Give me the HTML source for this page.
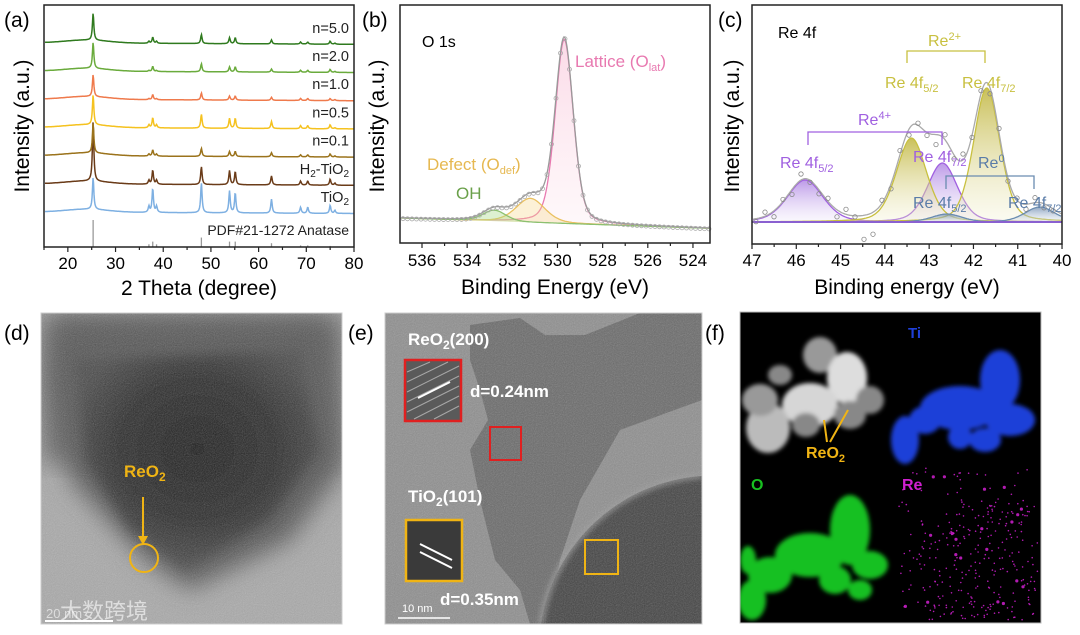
<!DOCTYPE html>
<html><head><meta charset="utf-8">
<style>
html,body{margin:0;padding:0;background:#fff;width:1080px;height:635px;overflow:hidden;}
svg{display:block;font-family:"Liberation Sans",Arial,sans-serif;}
</style></head>
<body>
<svg id="fig" width="1080" height="635" viewBox="0 0 1080 635" xmlns="http://www.w3.org/2000/svg">
<defs>
<filter id="blur6"><feGaussianBlur stdDeviation="6"/></filter>
<filter id="blur3"><feGaussianBlur stdDeviation="3"/></filter>
<filter id="blur2"><feGaussianBlur stdDeviation="2"/></filter>
<filter id="blur12"><feGaussianBlur stdDeviation="12"/></filter>
<filter id="noise"><feTurbulence type="fractalNoise" baseFrequency="0.9" numOctaves="2" result="n"/><feColorMatrix type="saturate" values="0"/><feComponentTransfer><feFuncA type="table" tableValues="0 0.35"/></feComponentTransfer></filter>
<clipPath id="clipD"><rect x="41" y="313" width="301" height="311"/></clipPath>
<clipPath id="clipE"><rect x="385" y="313" width="317" height="311"/></clipPath>
<clipPath id="clipF"><rect x="740" y="312" width="301" height="311"/></clipPath>
<linearGradient id="gradPink" x1="0" y1="0" x2="0" y2="1"><stop offset="0" stop-color="#f7b6d0" stop-opacity="0.5"/><stop offset="1" stop-color="#fde8ef" stop-opacity="0.3"/></linearGradient>
<linearGradient id="gradOlive" x1="0" y1="0" x2="0" y2="1"><stop offset="0" stop-color="#bcb030" stop-opacity="0.8"/><stop offset="1" stop-color="#f2f0d0" stop-opacity="0.3"/></linearGradient>
<linearGradient id="gradPurple" x1="0" y1="0" x2="0" y2="1"><stop offset="0" stop-color="#a678e0" stop-opacity="0.75"/><stop offset="1" stop-color="#eee6fa" stop-opacity="0.3"/></linearGradient>
<linearGradient id="gradBlue" x1="0" y1="0" x2="0" y2="1"><stop offset="0" stop-color="#6080a8" stop-opacity="0.7"/><stop offset="1" stop-color="#dde6f0" stop-opacity="0.3"/></linearGradient>
<radialGradient id="gradD" cx="0.5" cy="0.45" r="0.55"><stop offset="0" stop-color="#1e1e1e"/><stop offset="0.6" stop-color="#2c2c2c"/><stop offset="1" stop-color="#4a4a4a"/></radialGradient>
</defs>
<g id="panelA"></g>
<g id="panelB"></g>
<g id="panelC"></g>

<!-- (d) TEM -->
<g>
<text x="4" y="340" font-size="21">(d)</text>
<g clip-path="url(#clipD)">
<rect x="41" y="313" width="301" height="311" fill="#a9a9a9"/>
<rect x="41" y="313" width="301" height="150" fill="#6a6a6a" filter="url(#blur12)"/>
<path d="M55,320 L330,320 L342,470 L290,540 L190,590 L145,560 L70,480 L50,380 Z" fill="#555" filter="url(#blur12)"/>
<path d="M75,360 L300,350 L320,450 L270,520 L185,570 L130,530 L85,460 Z" fill="url(#gradD)" filter="url(#blur6)"/>
<rect x="41" y="313" width="301" height="311" filter="url(#noise)"/>
</g>
<rect x="41" y="313" width="301" height="311" fill="none" stroke="#ccc" stroke-width="1"/>
<text x="124" y="477" font-size="17" font-weight="bold" fill="#f0b414">ReO<tspan font-size="12" dy="4">2</tspan></text>
<line x1="143" y1="497" x2="143" y2="538" stroke="#f0b414" stroke-width="2"/>
<path d="M138,536 L148,536 L143,545 Z" fill="#f0b414"/>
<circle cx="144" cy="558" r="14" fill="none" stroke="#f0b414" stroke-width="2"/>
<line x1="45" y1="621" x2="113" y2="621" stroke="#fff" stroke-width="2"/>
<text x="46" y="618" font-size="13" fill="#ddd">20 nm</text>
<text x="60" y="619" font-size="22" fill="#ffffff" fill-opacity="0.6" font-family="'Liberation Sans','Noto Sans CJK SC',sans-serif">大数跨境</text>
</g>

<!-- (e) HRTEM -->
<g>
<text x="348" y="340" font-size="21">(e)</text>
<g clip-path="url(#clipE)">
<rect x="385" y="313" width="317" height="311" fill="#8e8e8e"/>
<path d="M470,325 L520,318 L545,335 L585,335 L640,313 L702,313 L702,400 L620,430 L580,500 L560,560 L548,624 L530,624 L520,590 L495,560 L480,500 L470,450 L488,420 L480,390 L470,360 Z" fill="#6a6a6a"/>
<path d="M541,624 A175,175 0 0 1 702,476 L702,624 Z" fill="#424242"/>
<path d="M541,624 A175,175 0 0 1 702,476" fill="none" stroke="#9a9a9a" stroke-width="4" filter="url(#blur3)"/>
<rect x="385" y="313" width="317" height="311" filter="url(#noise)"/>
</g>
<rect x="385" y="313" width="317" height="311" fill="none" stroke="#ccc"/>
<text x="408" y="345" font-size="17" font-weight="bold" fill="#fff">ReO<tspan font-size="12" dy="4">2</tspan><tspan dy="-4">(200)</tspan></text>
<rect x="405" y="360" width="56" height="61" fill="#5a5a5a" stroke="#e02020" stroke-width="2.5"/>
<g stroke="#bbb" stroke-width="1" opacity="0.8">
<line x1="407" y1="372" x2="430" y2="362"/><line x1="407" y1="382" x2="448" y2="362"/><line x1="407" y1="392" x2="459" y2="366"/><line x1="407" y1="402" x2="459" y2="376"/><line x1="407" y1="412" x2="459" y2="386"/><line x1="414" y1="419" x2="459" y2="396"/><line x1="434" y1="419" x2="459" y2="406"/></g>
<line x1="418" y1="398" x2="450" y2="382" stroke="#fff" stroke-width="2"/>
<text x="470" y="397" font-size="17" font-weight="bold" fill="#fff">d=0.24nm</text>
<rect x="490" y="427" width="31" height="33" fill="none" stroke="#e02020" stroke-width="2"/>
<text x="408" y="502" font-size="17" font-weight="bold" fill="#fff">TiO<tspan font-size="12" dy="4">2</tspan><tspan dy="-4">(101)</tspan></text>
<rect x="406" y="520" width="56" height="61" fill="#3a3a3a" stroke="#f0b414" stroke-width="2.5"/>
<line x1="420" y1="544" x2="452" y2="560" stroke="#fff" stroke-width="2"/><line x1="420" y1="552" x2="452" y2="568" stroke="#fff" stroke-width="2"/>
<text x="440" y="605" font-size="17" font-weight="bold" fill="#fff">d=0.35nm</text>
<text x="402" y="612" font-size="11" fill="#fff">10 nm</text>
<line x1="398" y1="618" x2="450" y2="618" stroke="#fff" stroke-width="1.5"/>
<rect x="585" y="540" width="33" height="34" fill="none" stroke="#f0b414" stroke-width="2"/>
</g>

<!-- (f) EDS mapping -->
<g>
<text x="705" y="340" font-size="21">(f)</text>
<g clip-path="url(#clipF)">
<rect x="740" y="312" width="301" height="311" fill="#000"/>
<g fill="#bbb" filter="url(#blur2)">
<ellipse cx="820" cy="355" rx="17" ry="18" fill="#999"/><ellipse cx="847" cy="378" rx="20" ry="26" fill="#ddd"/><ellipse cx="810" cy="405" rx="28" ry="22" fill="#d6d6d6"/>
<ellipse cx="768" cy="428" rx="22" ry="25"/><ellipse cx="760" cy="400" rx="18" ry="16" fill="#999"/><ellipse cx="806" cy="425" rx="14" ry="12" fill="#888"/><ellipse cx="850" cy="415" rx="16" ry="14" fill="#888"/><ellipse cx="870" cy="400" rx="14" ry="14" fill="#888"/><ellipse cx="780" cy="375" rx="12" ry="10" fill="#888"/></g>
<g fill="#1f3fd8" filter="url(#blur2)">
<ellipse cx="1000" cy="380" rx="20" ry="30"/><ellipse cx="960" cy="408" rx="40" ry="22"/><ellipse cx="925" cy="420" rx="16" ry="14"/><ellipse cx="905" cy="440" rx="14" ry="24"/><ellipse cx="1010" cy="420" rx="25" ry="16"/><ellipse cx="985" cy="440" rx="16" ry="12"/><ellipse cx="960" cy="437" rx="12" ry="12"/></g>
<g fill="#18c020" filter="url(#blur2)">
<ellipse cx="850" cy="530" rx="20" ry="35"/><ellipse cx="810" cy="555" rx="35" ry="22"/><ellipse cx="770" cy="575" rx="22" ry="18"/><ellipse cx="752" cy="600" rx="14" ry="20"/><ellipse cx="870" cy="565" rx="18" ry="14"/><ellipse cx="835" cy="580" rx="16" ry="14"/><ellipse cx="860" cy="590" rx="12" ry="10"/><ellipse cx="748" cy="560" rx="8" ry="14"/></g>
<g id="reDots" fill="#d020d0"></g>
</g>
<rect x="740" y="312" width="301" height="311" fill="none" stroke="#bbb"/>
<line x1="827" y1="442" x2="824" y2="420" stroke="#f0b414" stroke-width="2"/>
<line x1="830" y1="442" x2="848" y2="410" stroke="#f0b414" stroke-width="2"/>
<text x="806" y="458" font-size="16" font-weight="bold" fill="#f0b414">ReO<tspan font-size="11" dy="4">2</tspan></text>
<text x="908" y="338" font-size="15" font-weight="bold" fill="#1f3fd8">Ti</text>
<text x="751" y="490" font-size="16" font-weight="bold" fill="#18c020">O</text>
<text x="902" y="490" font-size="16" font-weight="bold" fill="#d020d0">Re</text>
</g>
</svg>
<script>
// ====== DATA ======
// (a) XRD
var xrdSamples = ["n=5.0","n=2.0","n=1.0","n=0.5","n=0.1","H2-TiO2","TiO2"];
var xrdPeakPos = [25.3, 37.0, 37.8, 38.6, 48.0, 53.9, 55.1, 62.7, 68.8, 70.3, 75.0, 76.0];
var xrdH_n50  = [27, 2, 6, 2, 9, 6, 6, 4, 2, 2, 3, 1];
var xrdH_n20  = [26, 1, 5, 1, 8, 5, 5, 3, 2, 2, 3, 1];
var xrdH_n10  = [22, 1, 5, 1, 7, 4, 4, 3, 2, 2, 2, 1];
var xrdH_n05  = [30, 3, 10, 3, 14, 10, 10, 7, 3, 3, 4, 1];
var xrdH_n01  = [30, 2, 6, 2, 8, 5, 5, 4, 2, 2, 3, 1];
var xrdH_H2   = [60, 4, 14, 4, 18, 14, 13, 9, 4, 4, 6, 2];
var xrdH_TiO2 = [32, 6, 24, 6, 30, 22, 20, 14, 6, 6, 8, 3];
var xrdOffsets = [6, 5, 4, 3, 2, 1, 0];
var xrdRefPos = [25.3, 37.0, 37.8, 38.6, 48.0, 53.9, 55.1, 62.7, 68.8, 70.3, 75.0];
var xrdRefH   = [1.0, 0.1, 0.2, 0.1, 0.35, 0.2, 0.2, 0.14, 0.06, 0.06, 0.04];
var xrdTicks = [20,30,40,50,60,70,80];
// (b) O 1s components: center, height, fwhm
var o1sNames   = ["Lattice","Defect","OH"];
var o1sCenters = [529.7, 531.2, 532.8];
var o1sHeights = [184, 24, 11];
var o1sWidths  = [0.95, 1.5, 1.2];
var o1sTicks = [536,534,532,530,528,526,524];
// (c) Re 4f components
var reNames   = ["Re4+ 4f5/2","Re4+ 4f7/2","Re2+ 4f5/2","Re2+ 4f7/2","Re0 4f5/2","Re0 4f7/2"];
var reCenters = [45.8, 42.7, 43.4, 41.7, 42.6, 40.5];
var reHeights = [42, 59, 84, 134, 8, 15];
var reWidths  = [0.95, 0.8, 0.8, 0.7, 0.8, 0.8];
var reTicks = [47,46,45,44,43,42,41,40];
var reScatter = [3, -4, 6, -2, 5, -6, 2, 4, -3, 7, -5, 1, 24, 22, -3, 5, -4, 6, -2, 3, 10, -5, 4, -6, 2, -3, 6, -4, 3, -2, 5, -5, 4, 2];

var NS = "http://www.w3.org/2000/svg";
function mk(parent, tag, attrs){ var e=document.createElementNS(NS,tag); for(var k in attrs) e.setAttribute(k,attrs[k]); parent.appendChild(e); return e; }
function lor(x,c,h,w){ var g=w/2; return h*g*g/((x-c)*(x-c)+g*g); }
function gl(x,c,h,w){ var s=w/2.355; return h*(0.7*Math.exp(-(x-c)*(x-c)/(2*s*s))+0.3*lor(x,c,1,w)); }

// ====== PANEL A ======
(function(){
  var g=document.getElementById('panelA');
  var L=44,R=354,T=5,B=247, x0=15,x1=80;
  function X(v){return L+(v-x0)/(x1-x0)*(R-L);}
  var baseY = function(off){ return 212 - off*28.2; };
  var colors=["#2f7a1e","#6aab3c","#ef7a4c","#f5c21f","#9b731c","#6a3b18","#7eb0e2"];
  var heights=[xrdH_n50,xrdH_n20,xrdH_n10,xrdH_n05,xrdH_n01,xrdH_H2,xrdH_TiO2];
  var lab=mk(g,'text',{x:4,y:27,'font-size':21});
  lab.textContent='(a)';
  
  
  for(var s=xrdSamples.length-1;s>=0;s--){
    var by=baseY(xrdOffsets[s]); var d='';
    for(var px=L+1;px<R;px+=0.5){
      var v=(px-L)/(R-L)*(x1-x0)+x0;
      var y=by - 3*Math.exp(-(v-24)*(v-24)/40) + 1.5*(v-15)/65;
      for(var i=0;i<xrdPeakPos.length;i++) y-=lor(v,xrdPeakPos[i],heights[s][i],0.35);
      d+=(d?'L':'M')+px.toFixed(1)+','+y.toFixed(1);
    }
    var p=mk(g,'path',{d:d,fill:'none',stroke:colors[s],'stroke-width':1.5});
    
    
    var t=mk(g,'text',{x:349,y:by-10,'font-size':14.5,'text-anchor':'end',fill:'#222'});
    
    
    if(xrdSamples[s]==='H2-TiO2'){ t.innerHTML='H<tspan font-size="10" dy="3">2</tspan><tspan dy="-3">-TiO</tspan><tspan font-size="10" dy="3">2</tspan>'; }
    else if(xrdSamples[s]==='TiO2'){ t.innerHTML='TiO<tspan font-size="10" dy="3">2</tspan>'; }
    else t.textContent=xrdSamples[s];
  }
  for(var i=0;i<xrdRefPos.length;i++){
    var r=mk(g,'line',{x1:X(xrdRefPos[i]),x2:X(xrdRefPos[i]),y1:B,y2:B-27*xrdRefH[i],stroke:'#999','stroke-width':1.3});
    
    
  }
  var rt=mk(g,'text',{x:349,y:235,'font-size':14,'text-anchor':'end',fill:'#222'});
  rt.textContent='PDF#21-1272 Anatase';
  
  
  var fr=mk(g,'rect',{x:L,y:T,width:R-L,height:B-T,fill:'none',stroke:'#222','stroke-width':1.5});
  
  
  for(var v=15;v<=80;v+=5){ mk(g,'line',{x1:X(v),x2:X(v),y1:B,y2:B+(v%10==0?5:3),stroke:'#222','stroke-width':1.2}); }
  xrdTicks.forEach(function(v){
    var t=mk(g,'text',{x:X(v),y:269,'font-size':17,'text-anchor':'middle'}); t.textContent=v;
    
    
  });
  var xt=mk(g,'text',{x:199,y:295,'font-size':21,'text-anchor':'middle'}); xt.textContent='2 Theta (degree)';
  
  
  var yt=mk(g,'text',{x:0,y:0,'font-size':21,'text-anchor':'middle',transform:'translate(29,126) rotate(-90)'}); yt.textContent='Intensity (a.u.)';
  
  
})();

// ====== PANEL B ======
(function(){
  var g=document.getElementById('panelB');
  var L=400,R=710,T=5,B=243;
  function X(v){return 422+(536-v)*22.58;}
  function V(px){return 536-(px-422)/22.58;}
  function base(v){return 218+(537-v)*0.75;}
  var lab=mk(g,'text',{x:362,y:27,'font-size':21}); lab.textContent='(b)';
  
  
  var cols=['#e879b0','#eac060','#8cc070'], fills=['url(#gradPink)','rgba(245,215,140,0.35)','rgba(170,220,140,0.4)'];
  for(var c=0;c<o1sCenters.length;c++){
    var d='';
    for(var px=L+1;px<=R-1;px+=1){ var v=V(px); var y=base(v)-gl(v,o1sCenters[c],o1sHeights[c],o1sWidths[c]); d+=(d?'L':'M')+px+','+y.toFixed(1); }
    var area=mk(g,'path',{d:d+'L'+(R-1)+','+base(V(R-1))+'L'+(L+1)+','+base(V(L+1))+'Z',fill:fills[c],stroke:'none'});
    
    
    var p=mk(g,'path',{d:d,fill:'none',stroke:cols[c],'stroke-width':1.3});
    
    
  }
  var d='';
  for(var px=L+1;px<=R-1;px+=1){ var v=V(px); var y=base(v); for(var c=0;c<o1sCenters.length;c++) y-=gl(v,o1sCenters[c],o1sHeights[c],o1sWidths[c]); d+=(d?'L':'M')+px+','+y.toFixed(1); }
  var env=mk(g,'path',{d:d,fill:'none',stroke:'#999','stroke-width':1.3});
  
  
  for(var px=L+3;px<R;px+=4.5){ var v=V(px); var y=base(v); for(var c=0;c<o1sCenters.length;c++) y-=gl(v,o1sCenters[c],o1sHeights[c],o1sWidths[c]);
    var pt=mk(g,'circle',{cx:px,cy:y+1,r:2,fill:'none',stroke:'#aaa','stroke-width':0.8});
    
     }
  var fr=mk(g,'rect',{x:L,y:T,width:R-L,height:B-T,fill:'none',stroke:'#222','stroke-width':1.5});
  
  
  for(var v=537;v>=523;v--){ var x=X(v); if(x>L&&x<R) mk(g,'line',{x1:x,x2:x,y1:B,y2:B+(v%2==0?5:3),stroke:'#222','stroke-width':1.2}); }
  o1sTicks.forEach(function(v){ var t=mk(g,'text',{x:X(v),y:266,'font-size':17,'text-anchor':'middle'}); t.textContent=v;
    
     });
  var xt=mk(g,'text',{x:555,y:294,'font-size':21,'text-anchor':'middle'}); xt.textContent='Binding Energy (eV)';
  
  
  var yt=mk(g,'text',{x:0,y:0,'font-size':21,'text-anchor':'middle',transform:'translate(384,126) rotate(-90)'}); yt.textContent='Intensity (a.u.)';
  
  
  var a=mk(g,'text',{x:422,y:47,'font-size':16}); a.textContent='O 1s';
  
  
  var l1=mk(g,'text',{x:575,y:67,'font-size':17,fill:'#e879b0'}); l1.innerHTML='Lattice (O<tspan font-size="11" dy="4">lat</tspan><tspan dy="-4">)</tspan>';
  
  
  var l2=mk(g,'text',{x:427,y:170,'font-size':17,fill:'#e6b850'}); l2.innerHTML='Defect (O<tspan font-size="11" dy="4">def</tspan><tspan dy="-4">)</tspan>';
  
  
  var l3=mk(g,'text',{x:456,y:199,'font-size':17,fill:'#6aa04a'}); l3.textContent='OH';
  
  
})();

// ====== PANEL C ======
(function(){
  var g=document.getElementById('panelC');
  var L=752,R=1062,T=5,B=244;
  function X(v){return L+(47-v)*44.29;}
  function V(px){return 47-(px-L)/44.29;}
  var by=222;
  var lab=mk(g,'text',{x:718,y:27,'font-size':21}); lab.textContent='(c)';
  
  
  var cols=['#a060e0','#a060e0','#c8c040','#c8c040','#6a8cb0','#6a8cb0'];
  var fills=['url(#gradPurple)','url(#gradPurple)','url(#gradOlive)','url(#gradOlive)','url(#gradBlue)','url(#gradBlue)'];
  for(var c=0;c<reCenters.length;c++){
    var d='';
    for(var px=L+1;px<=R-1;px+=1){ var v=V(px); var y=by-gl(v,reCenters[c],reHeights[c],reWidths[c]); d+=(d?'L':'M')+px+','+y.toFixed(1); }
    var ar=mk(g,'path',{d:d+'L'+(R-1)+','+by+'L'+(L+1)+','+by+'Z',fill:fills[c],stroke:'none'});
    
    
    var p=mk(g,'path',{d:d,fill:'none',stroke:cols[c],'stroke-width':1.3});
    
    
  }
  mk(g,'line',{x1:L,x2:R,y1:by,y2:by,stroke:'#8a60d0','stroke-width':2});
  var d='';
  function envAt(v){ var y=by; for(var c=0;c<reCenters.length;c++) y-=gl(v,reCenters[c],reHeights[c],reWidths[c]); return y; }
  for(var px=L+1;px<=R-1;px+=1){ d+=(d?'L':'M')+px+','+envAt(V(px)).toFixed(1); }
  var env=mk(g,'path',{d:d,fill:'none',stroke:'#aaa','stroke-width':1.3});
  
  
  for(var i=0;i<reScatter.length;i++){ var px=L+4+i*9; var y=envAt(V(px))+reScatter[i];
    var pt=mk(g,'circle',{cx:px,cy:y,r:2.2,fill:'none',stroke:'#888','stroke-width':0.8});
    
     }
  var fr=mk(g,'rect',{x:L,y:T,width:R-L,height:B-T,fill:'none',stroke:'#222','stroke-width':1.5});
  
  
  for(var v=47;v>=40;v-=0.5){ mk(g,'line',{x1:X(v),x2:X(v),y1:B,y2:B+(v%1==0?5:3),stroke:'#222','stroke-width':1.2}); }
  reTicks.forEach(function(v){ var t=mk(g,'text',{x:X(v),y:266,'font-size':17,'text-anchor':'middle'}); t.textContent=v;
    
     });
  var xt=mk(g,'text',{x:907,y:294,'font-size':21,'text-anchor':'middle'}); xt.textContent='Binding energy (eV)';
  
  
  var yt=mk(g,'text',{x:0,y:0,'font-size':21,'text-anchor':'middle',transform:'translate(739,126) rotate(-90)'}); yt.textContent='Intensity (a.u.)';
  
  
  var ti=mk(g,'text',{x:778,y:38,'font-size':16}); ti.textContent='Re 4f';
  
  
  function bracket(x1,x2,y,h,col,name){ var p=mk(g,'path',{d:'M'+x1+','+(y+h)+'V'+y+'H'+x2+'V'+(y+h),fill:'none',stroke:col,'stroke-width':1.3});
    
     }
  bracket(907,985,51,12,'#c8c040','re2-bracket');
  bracket(808,942,132,13,'#a060e0','re4-bracket');
  bracket(946,1034,176,13,'#6a8cb0','re0-bracket');
  function txt(x,y,html,col,name){ var t=mk(g,'text',{x:x,y:y,'font-size':16,fill:col}); t.innerHTML=html;
    
     }
  txt(928,46,'Re<tspan font-size="11" dy="-6">2+</tspan>','#c8c040','re2-label');
  txt(885,88,'Re 4f<tspan font-size="11" dy="4">5/2</tspan>','#c8c040','re2-4f52-label');
  txt(962,88,'Re 4f<tspan font-size="11" dy="4">7/2</tspan>','#c8c040','re2-4f72-label');
  txt(858,125,'Re<tspan font-size="11" dy="-6">4+</tspan>','#a060e0','re4-label');
  txt(780,168,'Re 4f<tspan font-size="11" dy="4">5/2</tspan>','#a060e0','re4-4f52-label');
  txt(913,162,'Re 4f<tspan font-size="11" dy="4">7/2</tspan>','#a060e0','re4-4f72-label');
  txt(978,168,'Re<tspan font-size="11" dy="-6">0</tspan>','#5a7ca8','re0-label');
  txt(913,208,'Re 4f<tspan font-size="11" dy="4">5/2</tspan>','#5a7ca8','re0-4f52-label');
  txt(1008,208,'Re 4f<tspan font-size="11" dy="4">7/2</tspan>','#5a7ca8','re0-4f72-label');
})();

// Re map dots (decorative texture, pseudo-random LCG)
(function(){
  var g=document.getElementById('reDots');
  var seed=12345;
  function rnd(){ seed=(seed*1103515245+12345)%2147483648; return seed/2147483648; }
  for(var i=0;i<420;i++){
    var x=893+rnd()*145, y=468+rnd()*152;
    var dd=(x-985)*(x-985)/5000+(y-565)*(y-565)/5000;
    if(dd>1 && rnd()<0.65) continue;
    var c=mk(g,'circle',{cx:x.toFixed(1),cy:y.toFixed(1),r:(rnd()<0.05?1.6:0.8),opacity:0.85});
    
    
  }
})();
</script>
</body></html>
